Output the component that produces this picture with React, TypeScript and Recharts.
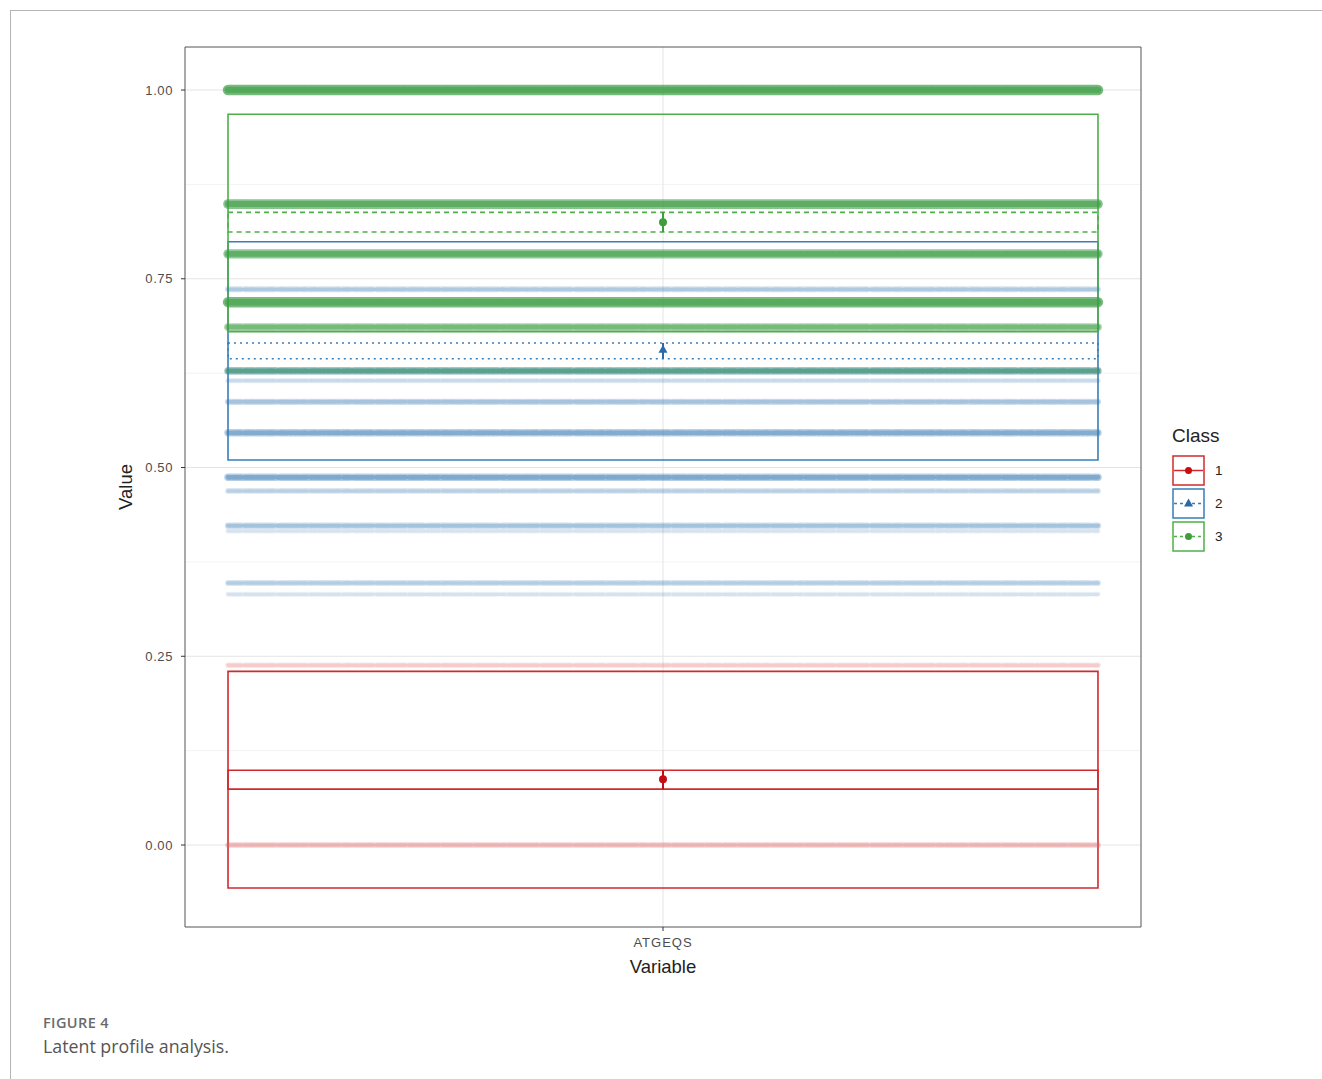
import React from "react";
import {
  ComposedChart,
  Scatter,
  XAxis,
  YAxis,
  CartesianGrid,
  ReferenceArea,
  ErrorBar,
} from "recharts";

// profile classes
const classes = ["1", "2", "3"];
const classColors = ["#d02a2e", "#377eb8", "#4daf4a"];
const rowColors = ["#e06666", "#3f7fb5", "#3f9f47"];
const meanColors = ["#c40f12", "#2a6aa6", "#3f9d3c"];
const ciDash = ["0", "2 4", "5 4"];

// box (range) per class
const boxLow = [-0.057, 0.51, 0.68];
const boxHigh = [0.23, 0.799, 0.968];

// class means and their confidence interval
const meanValues = [0.087, 0.656, 0.825];
const ciLow = [0.074, 0.644, 0.812];
const ciHigh = [0.099, 0.665, 0.838];

// observed response levels (jittered rows) and how crowded each row is
const levelValues1 = [0.238, 0.0];
const levelCount1 = [22, 30];
const levelValues2 = [0.736, 0.628, 0.615, 0.587, 0.546, 0.487, 0.469, 0.423, 0.416, 0.347, 0.332];
const levelCount2 = [28, 50, 18, 32, 48, 50, 24, 32, 14, 26, 14];
const levelValues3 = [1.0, 0.849, 0.783, 0.719, 0.686, 0.628];
const levelCount3 = [92, 80, 75, 90, 55, 40];

const yTicks = [0, 0.25, 0.5, 0.75, 1.0];
const yMinor = [0.125, 0.375, 0.625, 0.875];
const xCategory = "ATGEQS";

const X_MIN = 0.5;
const X_MAX = 1.5;
const Y_MIN = -0.1086;
const Y_MAX = 1.057;
const BOX_L = 0.545;
const BOX_R = 1.455;

const levelGroups = [
  { values: levelValues1, counts: levelCount1 },
  { values: levelValues2, counts: levelCount2 },
  { values: levelValues3, counts: levelCount3 },
];

const noDot = () => <g />;

const MeanShape = (ci: number) => (p: any) => {
  const c = meanColors[ci];
  if (ci === 1) {
    return (
      <path
        d={`M${p.cx},${p.cy - 5} L${p.cx + 4.5},${p.cy + 3} L${p.cx - 4.5},${p.cy + 3} Z`}
        fill={c}
      />
    );
  }
  return <circle cx={p.cx} cy={p.cy} r={4} fill={c} />;
};

const LegendKeys = () => (
  <svg width={100} height={140} style={{ position: "absolute", left: 1165, top: 420 }}>
    <text x={7} y={22} fontSize={19} fill="#222" fontFamily="Liberation Sans, Arial, sans-serif">
      Class
    </text>
    {classes.map((c, i) => {
      const top = 36 + i * 33;
      return (
        <g key={c}>
          <rect x={8} y={top} width={31} height={29} fill="#fff" stroke={classColors[i]} strokeWidth={1.5} />
          <line
            x1={9}
            x2={38}
            y1={top + 14.5}
            y2={top + 14.5}
            stroke={classColors[i]}
            strokeWidth={1.5}
            strokeDasharray={i === 0 ? undefined : "3 3"}
          />
          {i === 1 ? (
            <path d={`M23.5,${top + 9.5} L28,${top + 17.5} L19,${top + 17.5} Z`} fill={meanColors[i]} />
          ) : (
            <circle cx={23.5} cy={top + 14.5} r={3.5} fill={meanColors[i]} />
          )}
          <text x={50} y={top + 19} fontSize={13.5} fill="#222" fontFamily="Liberation Sans, Arial, sans-serif">
            {c}
          </text>
        </g>
      );
    })}
  </svg>
);

const App: React.FC = () => {
  return (
    <div
      style={{
        position: "absolute",
        left: 0,
        top: 0,
        width: 1322,
        height: 1079,
        background: "#fff",
        fontFamily: "Liberation Sans, Arial, sans-serif",
      }}
    >
      <div
        style={{
          position: "absolute",
          left: 10,
          top: 10,
          width: 1320,
          height: 1080,
          borderLeft: "1px solid #b5b5b5",
          borderTop: "1px solid #b5b5b5",
        }}
      />
      <div style={{ position: "absolute", left: 0, top: 0 }}>
        <ComposedChart
          width={1322}
          height={1000}
          margin={{ top: 47, right: 181, left: 115, bottom: 23 }}
        >
          <CartesianGrid
            horizontalValues={yMinor}
            vertical={false}
            stroke="#f3f3f3"
            strokeWidth={1}
          />
          <CartesianGrid
            horizontalValues={yTicks}
            verticalValues={[1]}
            stroke="#e4e4e4"
            strokeWidth={1}
          />
          <XAxis
            type="number"
            dataKey="x"
            domain={[X_MIN, X_MAX]}
            ticks={[1]}
            tickFormatter={() => xCategory}
            allowDataOverflow
            axisLine={false}
            tickSize={4}
            tickMargin={7}
            height={50}
            tickLine={{ stroke: "#333" }}
            tick={{ fontSize: 13, fill: "#4d4d4d", letterSpacing: 1 }}
            label={{ value: "Variable", position: "insideBottom", offset: 4, fontSize: 18.5, fill: "#222" }}
          />
          <YAxis
            type="number"
            dataKey="y"
            domain={[Y_MIN, Y_MAX]}
            ticks={yTicks}
            tickFormatter={(v: number) => v.toFixed(2)}
            allowDataOverflow
            axisLine={false}
            tickSize={4}
            tickMargin={8}
            width={70}
            tickLine={{ stroke: "#333" }}
            tick={{ fontSize: 13, fill: "#4d4d4d", letterSpacing: 0.6 }}
            label={{
              value: "Value",
              angle: -90,
              position: "insideLeft",
              offset: 10,
              fontSize: 18.5,
              fill: "#222",
              style: { textAnchor: "middle" },
            }}
          />

          {levelGroups.map((g, ci) =>
            g.values.map((v, k) => {
              const n = g.counts[k];
              return (
                <Scatter
                  key={`lvb-${ci}-${k}`}
                  data={[
                    { x: BOX_L, y: v },
                    { x: BOX_R, y: v },
                  ]}
                  line={{
                    stroke: rowColors[ci],
                    strokeWidth: 4 + n / 14,
                    strokeOpacity: Math.min(0.75, n / 130),
                    strokeDasharray: n > 60 ? undefined : "14 3 9 2 20 4 6 2 11 3",
                    strokeLinecap: "round",
                  }}
                  shape={noDot}
                  isAnimationActive={false}
                />
              );
            })
          )}
          {levelGroups.map((g, ci) =>
            g.values.map((v, k) => {
              const n = g.counts[k];
              return (
                <Scatter
                  key={`lvt-${ci}-${k}`}
                  data={[
                    { x: BOX_L, y: v },
                    { x: BOX_R, y: v },
                  ]}
                  line={{
                    stroke: rowColors[ci],
                    strokeWidth: 2.5 + n / 22,
                    strokeOpacity: Math.min(0.6, n / 110),
                    strokeDasharray: "3 2 5 1 2 3 4 1 6 2 2 2",
                    strokeLinecap: "round",
                  }}
                  shape={noDot}
                  isAnimationActive={false}
                />
              );
            })
          )}

          {classes.map((c, i) => (
            <ReferenceArea
              key={`box-${c}`}
              x1={BOX_L}
              x2={BOX_R}
              y1={boxLow[i]}
              y2={boxHigh[i]}
              fill="none"
              stroke={classColors[i]}
              strokeWidth={1.6}
              ifOverflow="visible"
            />
          ))}
          {classes.map((c, i) => (
            <ReferenceArea
              key={`ci-${c}`}
              x1={BOX_L}
              x2={BOX_R}
              y1={ciLow[i]}
              y2={ciHigh[i]}
              fill="none"
              stroke={classColors[i]}
              strokeWidth={1.6}
              strokeDasharray={ciDash[i]}
              ifOverflow="visible"
            />
          ))}

          {classes.map((c, i) => (
            <Scatter
              key={`mean-${c}`}
              data={[{ x: 1, y: meanValues[i], err: [meanValues[i] - ciLow[i], ciHigh[i] - meanValues[i]] }]}
              shape={MeanShape(i)}
              isAnimationActive={false}
            >
              <ErrorBar dataKey="err" direction="y" width={0} stroke={meanColors[i]} strokeWidth={2} />
            </Scatter>
          ))}

          <ReferenceArea
            x1={X_MIN}
            x2={X_MAX}
            y1={Y_MIN}
            y2={Y_MAX}
            fill="none"
            stroke="#555"
            strokeWidth={1}
            ifOverflow="visible"
          />
        </ComposedChart>
      </div>
      <LegendKeys />
      <div
        style={{
          position: "absolute",
          left: 43,
          top: 1013,
          fontFamily: "Open Sans, sans-serif",
          fontSize: 14.5,
          fontWeight: 600,
          letterSpacing: 0.4,
          color: "#6a6a6a",
        }}
      >
        FIGURE 4
      </div>
      <div
        style={{
          position: "absolute",
          left: 43,
          top: 1034,
          fontFamily: "Open Sans, sans-serif",
          fontSize: 17.8,
          color: "#555",
        }}
      >
        Latent profile analysis.
      </div>
    </div>
  );
};

export default App;
